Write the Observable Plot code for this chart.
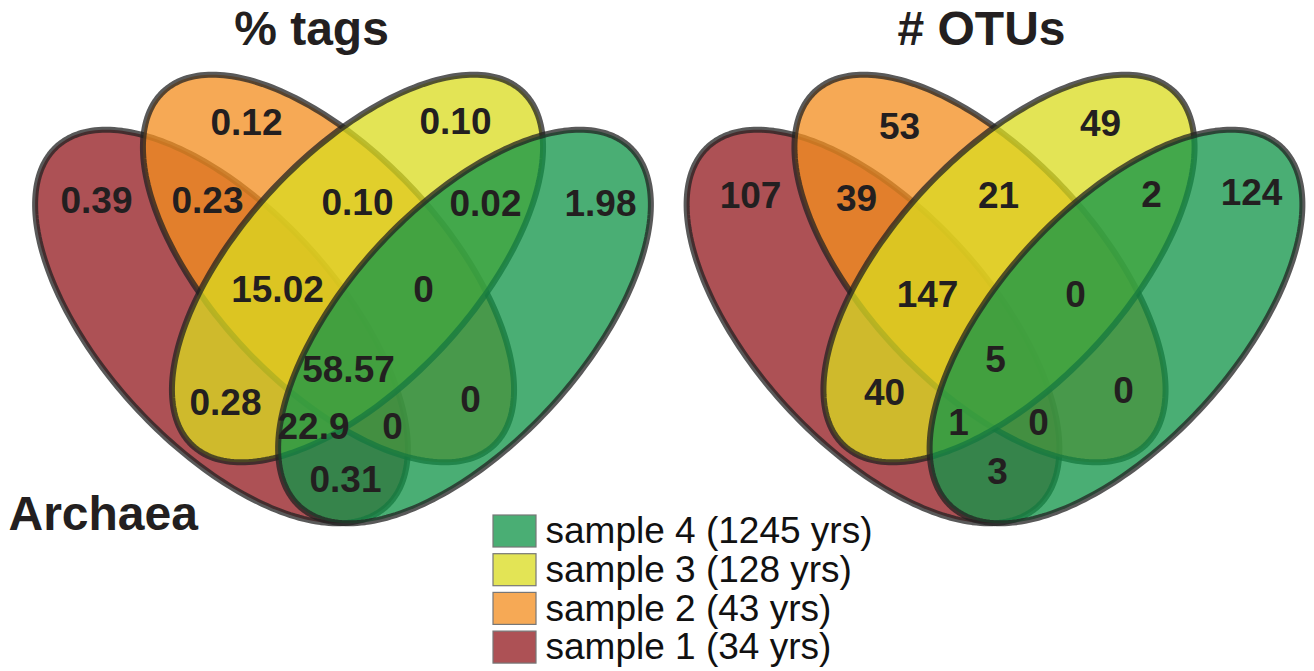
<!DOCTYPE html>
<html>
<head>
<meta charset="utf-8">
<script src="https://cdn.jsdelivr.net/npm/d3@7"></script>
<script src="https://cdn.jsdelivr.net/npm/@observablehq/plot@0.6"></script>
<style>
  html, body { margin: 0; padding: 0; background: #fff; }
  #chart svg { display: block; }
</style>
</head>
<body>
<div id="chart"></div>
<script>
// ---------- data ----------
const sets = ["sample 1 (34 yrs)", "sample 2 (43 yrs)", "sample 3 (128 yrs)", "sample 4 (1245 yrs)"];
const setColors = ["#931a20", "#f38e1f", "#dadb1f", "#119448"];
const regions = ["1", "2", "3", "4", "12", "23", "34", "123", "234", "1234", "13", "24", "134", "124", "14"];
const pctTags = ["0.39", "0.12", "0.10", "1.98", "0.23", "0.10", "0.02", "15.02", "0", "58.57", "0.28", "0", "22.9", "0", "0.31"];
const numOTUs = ["107", "53", "49", "124", "39", "21", "2", "147", "0", "5", "40", "0", "1", "0", "3"];
const panelTitles = ["% tags", "# OTUs"];
const groupLabel = "Archaea";

// ---------- layout (pixel space) ----------
const W = 1314, H = 671;
const panelOffsets = [0, 651.5];
// ellipse geometry for the left panel: centre, semi-axes, rotation (deg, screen)
const ellipses = [
  {cx: 221, cy: 326, a: 244, b: 118, rot: 47.5},
  {cx: 328, cy: 268, a: 242, b: 116, rot: 47},
  {cx: 357, cy: 268, a: 242, b: 116, rot: -47},
  {cx: 464, cy: 326, a: 244, b: 118, rot: -47.5}
];
const labelPos = [
  {"1": [96, 201], "2": [246, 123], "3": [455, 122], "4": [600, 204], "12": [207, 201], "23": [357, 203],
   "34": [485, 204], "123": [277, 290], "234": [423, 290], "1234": [348, 370], "13": [225, 403],
   "24": [470, 400], "134": [313, 427], "124": [392, 427], "14": [345, 480]},
  {"1": [750, 196], "2": [899, 127], "3": [1100, 124], "4": [1251, 193], "12": [856, 199], "23": [998, 196],
   "34": [1151, 195], "123": [927, 295], "234": [1075, 295], "1234": [995, 360], "13": [884, 393],
   "24": [1123, 391], "134": [958, 423], "124": [1038, 423], "14": [997, 472]}
];
const titlePos = [[311, 29], [981, 29]];
const fillOpacity = 0.76;
const font = "'Liberation Sans', Arial, Helvetica, sans-serif";

function ellipsePoints(e, dx) {
  const n = 240, r = e.rot * Math.PI / 180, pts = [];
  for (let i = 0; i < n; i++) {
    const t = 2 * Math.PI * i / n;
    const ux = e.a * Math.cos(t), uy = e.b * Math.sin(t);
    pts.push({x: e.cx + dx + ux * Math.cos(r) - uy * Math.sin(r),
              y: e.cy + ux * Math.sin(r) + uy * Math.cos(r)});
  }
  return pts;
}

const marks = [];
panelOffsets.forEach((dx, p) => {
  ellipses.forEach((e, i) => {
    marks.push(Plot.line(ellipsePoints(e, dx), {
      x: "x", y: "y", curve: "linear-closed",
      fill: setColors[i], fillOpacity,
      stroke: "#222", strokeOpacity: 0.75, strokeWidth: 6
    }));
  });
  const vals = p === 0 ? pctTags : numOTUs;
  const lab = regions.map((r, k) => ({x: labelPos[p][r][0], y: labelPos[p][r][1], text: vals[k]}));
  marks.push(Plot.text(lab, {x: "x", y: "y", text: "text", fontSize: 37, fontWeight: "bold",
    fill: "#231f20", fontFamily: font}));
});

// titles + group label
marks.push(Plot.text(panelTitles.map((t, i) => ({x: titlePos[i][0], y: titlePos[i][1], text: t})),
  {x: "x", y: "y", text: "text", fontSize: 48, fontWeight: "bold", fill: "#231f20", fontFamily: font}));
marks.push(Plot.text([{x: 8, y: 514, text: groupLabel}],
  {x: "x", y: "y", text: "text", fontSize: 48, fontWeight: "bold", fill: "#231f20",
   textAnchor: "start", fontFamily: font}));

// legend (sample 4 on top)
const legTop = 515, legStep = 38.7, legH = 32;
const legRows = sets.map((s, i) => ({name: s, color: setColors[i], row: sets.length - 1 - i}));
marks.push(Plot.rect(legRows, {
  x1: () => 493, x2: () => 536,
  y1: d => legTop + d.row * legStep, y2: d => legTop + d.row * legStep + legH,
  fill: "color", fillOpacity, stroke: "#777", strokeWidth: 1.2
}));
marks.push(Plot.text(legRows, {
  x: () => 545, y: d => legTop + d.row * legStep + legH / 2, text: "name",
  textAnchor: "start", fontSize: 37, fill: "#111", fontFamily: font
}));

const chart = Plot.plot({
  width: W, height: H, margin: 0,
  x: {domain: [0, W], range: [0, W], axis: null},
  y: {domain: [0, H], range: [0, H], axis: null},
  color: {type: "identity"},
  style: {background: "#fff", fontFamily: font},
  marks
});
document.getElementById("chart").append(chart);
</script>
</body>
</html>
